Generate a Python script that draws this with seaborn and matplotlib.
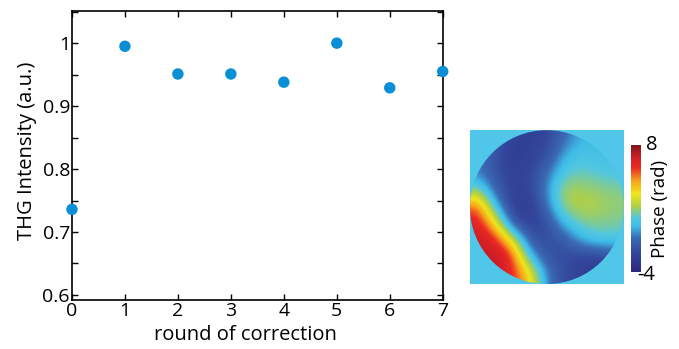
import numpy as np
import pandas as pd
import matplotlib
matplotlib.use("Agg")
import matplotlib.pyplot as plt
import seaborn as sns
from matplotlib.colors import LinearSegmentedColormap
from matplotlib.patches import Circle
from matplotlib.ticker import MultipleLocator

# ---- data ----
rounds = [0, 1, 2, 3, 4, 5, 6, 7]
thg_intensity = [0.736, 0.995, 0.951, 0.951, 0.938, 1.000, 0.929, 0.955]
x_ticks = [0, 1, 2, 3, 4, 5, 6, 7]
y_ticks = [0.6, 0.7, 0.8, 0.9, 1.0]
y_tick_labels = ["0.6", "0.7", "0.8", "0.9", "1"]

# phase map samples (rad), 9x9 grid, top row first
phase_r0 = [0.0, -1.5, -2.5, -2.6, -2.2, -1.0, 0.3, 0.5, 0.5]
phase_r1 = [-0.5, -1.8, -2.8, -2.4, -2.0, 0.3, 0.8, 0.5, 0.6]
phase_r2 = [-0.5, -1.8, -2.4, -2.3, -0.8, 1.0, 1.4, 1.1, 0.8]
phase_r3 = [1.8, -1.2, -2.6, -2.3, -0.3, 2.3, 2.1, 1.9, 1.7]
phase_r4 = [5.5, 0.5, -2.5, -2.9, -0.8, 2.0, 2.4, 2.2, 1.9]
phase_r5 = [6.5, 3.8, -1.5, -2.5, -2.0, 0.3, 1.5, 1.7, 1.5]
phase_r6 = [7.3, 6.3, 3.5, -1.5, -2.0, -1.6, 0.0, 0.8, 0.8]
phase_r7 = [6.5, 7.5, 6.0, 0.8, -1.6, -2.0, -2.5, -2.8, -2.0]
phase_r8 = [6.0, 7.0, 6.0, 4.0, -0.5, -2.0, -2.4, -2.6, -2.6]
phase_min, phase_max = -4, 8

# ---- style ----
sns.set_style("ticks")
plt.rcParams["font.family"] = ["Open Sans", "DejaVu Sans"]
plt.rcParams["text.color"] = "black"
plt.rcParams["axes.labelcolor"] = "black"
plt.rcParams["xtick.color"] = "black"
plt.rcParams["ytick.color"] = "black"

fig = plt.figure(figsize=(6.79, 3.49), dpi=100)
ax = fig.add_axes([0.106, 0.1404, 0.546, 0.828])

df = pd.DataFrame({"round": rounds, "thg": thg_intensity})
sns.scatterplot(data=df, x="round", y="thg", ax=ax, color="#0a8fd6",
                s=68, marker="o", edgecolor="none", clip_on=False, zorder=5)

ax.set_xlim(0, 7)
ax.set_ylim(0.592, 1.051)
ax.set_xticks(x_ticks)
ax.set_yticks(y_ticks)
ax.set_yticklabels(y_tick_labels)
ax.yaxis.set_minor_locator(MultipleLocator(0.05))
ax.tick_params(which="both", direction="in", top=True, right=True,
               length=4.5, width=1.0, color="black", labelcolor="black",
               labelsize=14, pad=1.5)
for sp in ax.spines.values():
    sp.set_linewidth(1.2)
    sp.set_color("black")
ax.set_xlabel("round of correction", fontsize=14.5, color="black")
ax.set_ylabel("THG Intensity (a.u.)", fontsize=14.5, color="black")
ax.xaxis.set_label_coords(0.469, -0.085)
ax.yaxis.set_label_coords(-0.094, 0.516)

# ---- phase map ----
cmap = LinearSegmentedColormap.from_list("phase", [
    (0.00, "#28297f"), (0.15, "#33469b"), (0.27, "#3b6cb5"),
    (0.36, "#3ebce8"), (0.42, "#52c7e0"), (0.52, "#b0d045"),
    (0.62, "#f0e51a"), (0.72, "#f7a21b"), (0.82, "#ec2a24"),
    (0.90, "#d21f26"), (1.00, "#7d1518")])

phase = np.array([phase_r0, phase_r1, phase_r2, phase_r3, phase_r4,
                  phase_r5, phase_r6, phase_r7, phase_r8])
axp = fig.add_axes([0.692, 0.186, 0.2268, 0.441])
axp.set_facecolor("#50c6e8")
im = axp.imshow(phase, cmap=cmap, vmin=phase_min, vmax=phase_max,
                extent=(0, 1, 0, 1), interpolation="bicubic", origin="upper")
im.set_clip_path(Circle((0.5, 0.5), 0.5, transform=axp.transData))
axp.set_xlim(0, 1)
axp.set_ylim(0, 1)
axp.set_xticks([])
axp.set_yticks([])
for sp in axp.spines.values():
    sp.set_visible(False)

cax = fig.add_axes([0.9293, 0.2206, 0.0147, 0.364])
cb = fig.colorbar(im, cax=cax)
cb.outline.set_visible(False)
cax.set_yticks([])
cax.tick_params(length=0)
fig.text(0.952, 0.585, "8", fontsize=14.5, ha="left", va="center", color="black")
fig.text(0.938, 0.212, "-4", fontsize=14.5, ha="left", va="center", color="black")
fig.text(0.972, 0.40, "Phase (rad)", fontsize=13.5, rotation=90,
         ha="center", va="center", color="black")

fig.savefig("out.png", dpi=100)
